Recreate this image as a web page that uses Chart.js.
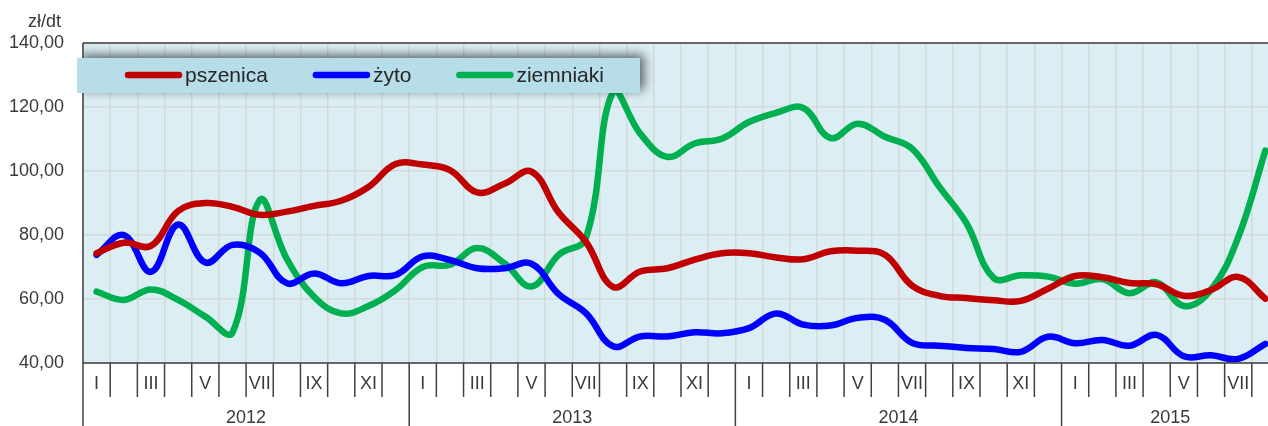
<!DOCTYPE html>
<html>
<head>
<meta charset="utf-8">
<script src="https://cdn.jsdelivr.net/npm/chart.js@4.4.0/dist/chart.umd.min.js"></script>
<style>
html, body { margin: 0; padding: 0; background: #fff; overflow: hidden; }
#wrap { position: relative; width: 1280px; height: 426px; }
</style>
</head>
<body>
<div id="wrap"><canvas id="priceChart"></canvas></div>
<script>
// month tick labels (only odd months are written) and years
const monthTicks = ['I', '', 'III', '', 'V', '', 'VII', '', 'IX', '', 'XI', ''];
const yearLabels = ['2012', '2013', '2014', '2015'];
const monthCount = 44; // I 2012 - VIII 2015

// prices in zł/dt, one value per month
const pszenica = [
    74.3, 77.6, 76.6, 87.5, 90.0, 88.8, 86.3, 87.3, 89.1, 90.7, 95.0, 102.2,
    102.0, 100.3, 93.3, 96.0, 99.8, 87.0, 77.9, 63.8, 68.6, 69.6, 72.3, 74.3,
    74.3, 73.0, 72.4, 74.9, 75.1, 73.8, 64.2, 61.0, 60.3, 59.6, 59.4, 63.2,
    67.2, 66.8, 65.0, 64.6, 61.0, 62.8, 66.9, 60.1
];
const zyto = [
    73.8, 80.0, 68.5, 83.3, 71.4, 76.9, 74.5, 64.9, 68.0, 64.9, 67.2, 67.5,
    73.3, 72.2, 69.6, 69.6, 71.0, 61.5, 55.6, 45.2, 48.3, 48.3, 49.6, 49.3,
    50.9, 55.5, 52.0, 51.7, 54.1, 53.5, 46.3, 45.4, 44.7, 44.4, 43.5, 48.2,
    46.2, 47.2, 45.4, 48.8, 42.1, 42.4, 41.3, 46.0
];
const ziemniaki = [
    62.3, 59.7, 63.0, 59.7, 54.5, 49.5, 90.9, 72.5, 60.7, 55.5, 57.8, 62.8,
    70.0, 70.7, 75.9, 71.2, 63.9, 73.8, 79.0, 124.7, 111.7, 104.4, 108.6, 110.1,
    115.3, 118.2, 119.7, 110.3, 114.8, 110.7, 107.0, 95.1, 83.7, 66.6, 67.4, 67.0,
    64.8, 66.2, 61.8, 65.2, 57.8, 62.9, 79.3, 106.4
];

const fontFamily = '"Liberation Sans", Arial, sans-serif';
const textColor = '#3a3a3a';
const axisColor = '#404040';
const gridColor = '#d6d8d9';
const plotBg = '#daeef3';
const legendBg = '#b7dde8';

// category labels built from the tick arrays
const labels = [];
for (let i = 0; i < monthCount; i++) {
    labels.push((monthTicks[i % 12] || '-') + ' ' + yearLabels[Math.floor(i / 12)]);
}

const chartDecor = {
    id: 'chartDecor',
    beforeDraw(chart) {
        const { ctx, chartArea: a } = chart;
        ctx.save();
        ctx.fillStyle = plotBg;
        ctx.fillRect(a.left, a.top, a.right - a.left, a.bottom - a.top);
        ctx.restore();
    },
    afterDraw(chart) {
        const { ctx, chartArea: a } = chart;
        const xs = chart.scales.x;
        const mw = (a.right - a.left) / monthCount;
        const H = chart.height;

        // legend box geometry
        const lgX = a.left - 6, lgY = a.top + 15, lgW = 563, lgH = 35;

        // legend shadow, kept inside the plot
        ctx.save();
        ctx.beginPath();
        ctx.rect(a.left, a.top, a.right - a.left, a.bottom - a.top);
        ctx.clip();
        ctx.shadowColor = 'rgba(0,0,0,0.6)';
        ctx.shadowBlur = 10;
        ctx.shadowOffsetX = 4;
        ctx.shadowOffsetY = -3;
        ctx.fillStyle = legendBg;
        ctx.fillRect(lgX, lgY, lgW, lgH);
        ctx.restore();

        // frame, month ticks, year separators
        ctx.save();
        ctx.strokeStyle = axisColor;
        ctx.lineWidth = 1.5;
        ctx.beginPath();
        ctx.moveTo(a.left, a.top);
        ctx.lineTo(a.right, a.top);
        ctx.moveTo(a.left, a.bottom);
        ctx.lineTo(a.right, a.bottom);
        for (let i = 0; i <= monthCount; i++) {
            const bx = a.left + i * mw;
            const y2 = (i % 12 === 0) ? H : a.bottom + 34;
            ctx.moveTo(bx, i === 0 ? a.top : a.bottom);
            ctx.lineTo(bx, y2);
        }
        ctx.stroke();

        // month and year labels
        ctx.fillStyle = textColor;
        ctx.font = '18px ' + fontFamily;
        ctx.textAlign = 'center';
        ctx.textBaseline = 'middle';
        for (let i = 0; i < monthCount; i++) {
            const t = monthTicks[i % 12];
            if (t) ctx.fillText(t, xs.getPixelForValue(i), a.bottom + 21);
        }
        yearLabels.forEach((yr, k) => {
            const n = Math.min(12, monthCount - k * 12);
            const cx = a.left + (k * 12 + n / 2) * mw;
            ctx.fillText(yr, cx, a.bottom + 55);
        });

        // unit label
        ctx.textAlign = 'left';
        ctx.textBaseline = 'alphabetic';
        ctx.fillText('zł/dt', 28, 27);
        ctx.restore();

        // legend
        ctx.save();
        ctx.fillStyle = legendBg;
        ctx.fillRect(lgX, lgY, lgW, lgH);
        ctx.font = '21px ' + fontFamily;
        ctx.textBaseline = 'alphabetic';
        ctx.lineCap = 'round';
        ctx.lineWidth = 6.5;
        let lx = lgX + 48;
        const ly = lgY + 17;
        chart.data.datasets.forEach(ds => {
            ctx.strokeStyle = ds.borderColor;
            ctx.beginPath();
            ctx.moveTo(lx + 3, ly);
            ctx.lineTo(lx + 54, ly);
            ctx.stroke();
            ctx.fillStyle = '#262626';
            ctx.fillText(ds.label, lx + 60, ly + 7);
            lx += 60 + ctx.measureText(ds.label).width + 45;
        });
        ctx.restore();
    }
};

const ctx = document.getElementById('priceChart').getContext('2d');
const chart = new Chart(ctx, {
    type: 'line',
    data: {
        labels: labels,
        datasets: [
            { label: 'pszenica', data: pszenica, borderColor: '#c00000' },
            { label: 'żyto', data: zyto, borderColor: '#0000ff' },
            { label: 'ziemniaki', data: ziemniaki, borderColor: '#00b050' }
        ]
    },
    options: {
        responsive: true,
        maintainAspectRatio: false,
        animation: false,
        layout: { padding: { top: 43, right: 1, left: 0, bottom: 0 } },
        elements: {
            point: { radius: 0 },
            line: { tension: 0.4, borderWidth: 6.5, borderCapStyle: 'round', borderJoinStyle: 'round', fill: false }
        },
        plugins: {
            legend: { display: false },
            tooltip: { enabled: false }
        },
        scales: {
            x: {
                type: 'category',
                offset: true,
                grid: { offset: true, color: gridColor, lineWidth: 1.5, drawTicks: false },
                border: { display: false },
                ticks: { display: false },
                afterFit(scale) { scale.height = 63; }
            },
            y: {
                min: 40,
                max: 140,
                ticks: {
                    stepSize: 20,
                    padding: 19,
                    color: textColor,
                    font: { family: fontFamily, size: 18 },
                    callback: v => v.toFixed(2).replace('.', ',')
                },
                grid: { color: gridColor, lineWidth: 1.5, drawTicks: false },
                border: { display: false },
                afterFit(scale) { scale.width = 83; }
            }
        }
    },
    plugins: [chartDecor]
});
</script>
</body>
</html>
